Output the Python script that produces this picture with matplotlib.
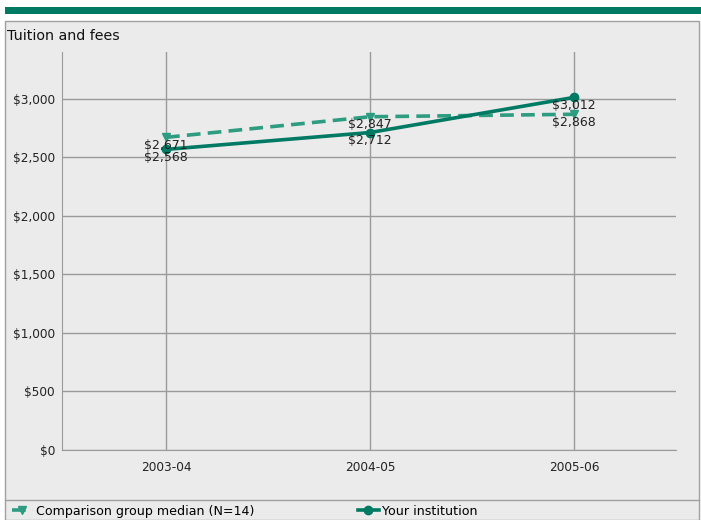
import numpy as np
from matplotlib import pyplot as plt
from matplotlib.patches import Rectangle
from matplotlib.lines import Line2D
from matplotlib.ticker import FuncFormatter

years = ['2003-04', '2004-05', '2005-06']
comparison = [2671, 2847, 2868]
yours = [2568, 2712, 3012]

dark_green = '#007A63'
light_green = '#2E9C80'
panel_bg = '#EBEBEB'
grid_color = '#9A9A9A'

W, H = 701, 520
fig = plt.figure(figsize=(W / 100, H / 100), dpi=100)
fig.patch.set_facecolor('white')

# top green bar and gray panel, drawn beneath the axes
fig.patches.append(Rectangle((5 / W, 1 - 14 / H), 696 / W, 7 / H, transform=fig.transFigure,
                             facecolor=dark_green, edgecolor='none', zorder=-2))
fig.patches.append(Rectangle((5 / W, 0), 694 / W, 1 - 21 / H, transform=fig.transFigure,
                             facecolor=panel_bg, edgecolor='#A0A0A0', linewidth=1, zorder=-2))
fig.add_artist(Line2D([5 / W, 699 / W], [1 - 500 / H] * 2, transform=fig.transFigure,
                      color='#A0A0A0', linewidth=1, zorder=-1))

fig.text(7 / W, 1 - 36 / H, 'Tuition and fees', fontsize=10.3, va='center', ha='left', color='#111111')

ax = fig.add_axes([62 / W, 1 - 450 / H, (676 - 62) / W, (450 - 52) / H])
ax.set_facecolor(panel_bg)
x = np.arange(len(years))

ax.plot(x, comparison, color=light_green, linewidth=2.6, linestyle=(0, (3.8, 2.0)),
        marker='v', markersize=6, label='Comparison group median (N=14)', zorder=3)
ax.plot(x, yours, color=dark_green, linewidth=2.6, marker='o', markersize=6,
        label='Your institution', zorder=4)

for xi, v in zip(x, comparison):
    ax.annotate(f'${v:,}', (xi, v), xytext=(0, -8), textcoords='offset pixels',
                ha='center', va='center', fontsize=9, color='#222222', zorder=5)
for xi, v in zip(x, yours):
    ax.annotate(f'${v:,}', (xi, v), xytext=(0, -8), textcoords='offset pixels',
                ha='center', va='center', fontsize=9, color='#222222', zorder=5)

ax.set_xlim(-0.51, 2.5)
ax.set_ylim(0, 3400)
ax.set_xticks(x)
ax.set_xticklabels(years)
ax.set_yticks(np.arange(0, 3001, 500))
ax.yaxis.set_major_formatter(FuncFormatter(lambda v, p: f'${v:,.0f}'))
ax.tick_params(length=0, labelsize=8.7, colors='#222222')
ax.tick_params(axis='y', pad=5)
ax.tick_params(axis='x', pad=8)
ax.grid(True, color=grid_color, linewidth=1)
ax.set_axisbelow(True)
for side in ['top', 'right']:
    ax.spines[side].set_visible(False)
for side in ['left', 'bottom']:
    ax.spines[side].set_color(grid_color)

fig.legend(loc='lower left', bbox_to_anchor=(6 / W, -0.008), ncol=2, frameon=False,
           fontsize=9.1, handlelength=1.6, handletextpad=0.3, columnspacing=8.2,
           borderaxespad=0.1)

fig.savefig('out.png', dpi=100, facecolor='white')
